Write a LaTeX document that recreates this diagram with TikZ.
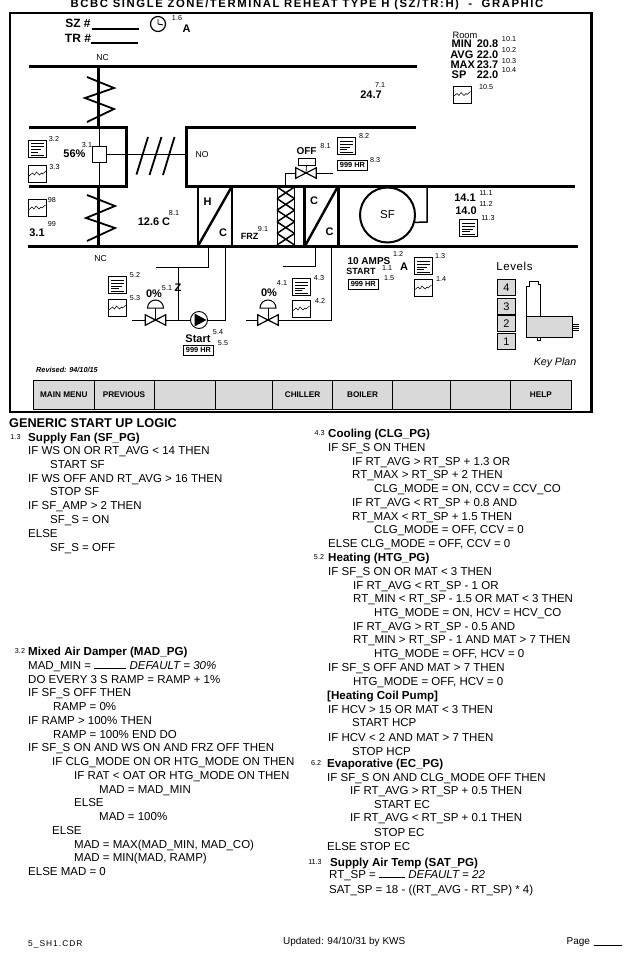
\documentclass[tikz,border=0pt]{standalone}
\usepackage{fontspec}
\setmainfont{Liberation Sans}
\usetikzlibrary{calc, positioning}

\definecolor{panelgrey}{HTML}{D9D9D9}

\tikzset{
    duct/.style={line width=3pt},
    blade/.style={line width=1.8pt},
    pipe/.style={line width=0.7pt},
    tag/.style={font=\fontsize{7.2}{8}\selectfont, inner sep=0pt},
    readout/.style={font=\fontsize{11}{12}\bfseries\selectfont, inner sep=0pt},
    small/.style={font=\fontsize{9}{10}\bfseries\selectfont, inner sep=0pt},
    plain/.style={font=\fontsize{8.6}{9}\selectfont, inner sep=0pt},
    iconbox/.style={draw, line width=0.6pt, fill=white, minimum width=18pt, minimum height=17pt, inner sep=0pt},
    hourbox/.style={draw, line width=0.8pt, minimum width=30pt, minimum height=10pt, inner sep=0pt, font=\fontsize{7.4}{8}\bfseries\selectfont},
    button/.style={draw, line width=0.6pt, fill=panelgrey, anchor=west, minimum height=29pt, inner sep=0pt, font=\fontsize{8.2}{9}\bfseries\selectfont},
    levelbox/.style={draw, line width=0.7pt, fill=panelgrey, minimum width=18pt, minimum height=16pt, inner sep=0pt, font=\fontsize{11}{12}\selectfont},
    logic/.style={anchor=base west, inner sep=0pt, font=\fontsize{11.5}{13}\selectfont},
    logichead/.style={anchor=base west, inner sep=0pt, font=\fontsize{11.6}{13}\bfseries\selectfont},
    valvebox/.style={minimum width=20pt, minimum height=10pt, inner sep=0pt}
}

% text-page icon, with its lines
\newcommand{\docicon}[3]{
    \node[iconbox] (#1) at (#2,#3) {};
    \draw[line width=0.6pt] (#2-6.5,#3-5) -- (#2+6.5,#3-5) (#2-6.5,#3-2) -- (#2+6.5,#3-2) (#2-6.5,#3+1) -- (#2+4,#3+1) (#2-6.5,#3+3.5) -- (#2+1,#3+3.5) (#2-6.5,#3+6.5) -- (#2+6.5,#3+6.5);
}
% trend icon
\newcommand{\trendicon}[3]{
    \node[iconbox] (#1) at (#2,#3) {};
    \draw[line width=0.5pt] (#2-8.5,#3+2) -- (#2-5,#3-1) -- (#2-3,#3+1) -- (#2-1,#3-2) -- (#2+2,#3+1) -- (#2+4,#3-1) -- (#2+5,#3) -- (#2+8.5,#3-3);
}
% bow tie, the node gives the ends for the pipes
\newcommand{\valve}[3]{
    \node[valvebox] (#1) at (#2,#3) {};
    \draw[line width=1.2pt] (#1.north west) -- (#1.south east) -- (#1.north east) -- (#1.south west) -- cycle;
}
% dome on a stem
\newcommand{\dome}[2]{
    \draw[line width=1pt] (#1-8,#2-12) arc[start angle=180, end angle=0, radius=8pt] -- cycle;
    \draw[line width=1pt] (#1,#2-12) -- (#1,#2);
}

\begin{document}
\begin{tikzpicture}[x=1pt, y=-1pt]

    \useasboundingbox (0,0) rectangle (639,958);

    \node[inner sep=0pt, font=\fontsize{11.3}{12}\bfseries\addfontfeature{LetterSpace=14}\selectfont] (title) at (307,5) {BCBC SINGLE ZONE/TERMINAL REHEAT TYPE H (SZ/TR:H)\ \ -\ \ GRAPHIC};
    \draw[line width=2.6pt] (10,13) rectangle (591.5,412);

    % zone and clock
    \node[small, font=\fontsize{12}{13}\bfseries\selectfont] (SZ) at (78,23) {SZ \#};
    \node[small, font=\fontsize{12}{13}\bfseries\selectfont] (TR) at (78,38) {TR \#};
    \draw[line width=1.3pt] (92,29) -- (139,29) (91,43) -- (138,43);
    \node[draw, circle, line width=1.2pt, minimum size=15pt, inner sep=0pt] (clock) at (158,24) {};
    \draw[line width=0.9pt] (clock.center) -- (158,19) (clock.center) -- (163,25);
    \node[small, font=\fontsize{11}{12}\bfseries\selectfont] (clockA) at (186.5,28.5) {A};

    % duct walls
    \draw[duct] (29,67) -- (417,67);
    \draw[duct] (29,127) -- (126,127) -- (126,186) -- (29,186);
    \draw[duct] (416,127) -- (186,127) -- (186,186) -- (575,186);
    \draw[duct] (28,246.5) -- (578,246.5);

    % dampers
    \draw[duct] (98,67) -- (98,127) (98,186) -- (98,246);
    \node[draw, line width=0.7pt, minimum width=14.5pt, minimum height=16.5pt, inner sep=0pt] (damper) at (99.5,154.5) {};
    \draw[pipe] (damper.north) -- (99.5,127) (damper.south) -- (99.5,186);
    \draw[pipe] (damper.east) -- (126,154.5);
    \draw[line width=1.2pt] (126,154.5) -- (186,154.5);
    \draw[blade] (148,137) -- (136.5,174.5) (161.5,137) -- (149.5,175) (174.5,137) -- (163,175);
    \draw[blade] (87,77) -- (114,88) -- (85,98) -- (114,109) -- (87,122);
    \draw[blade] (87,195) -- (115,206) -- (86,218) -- (115,228) -- (87,241);

    % coils
    \draw[line width=1.4pt] (198,186) -- (198,246) (232,186) -- (232,246);
    \draw[line width=2.4pt] (231,188) -- (198,246);
    \draw[duct] (304,186) -- (304,246);
    \draw[duct] (338.5,186) -- (338.5,246);
    \draw[line width=2.4pt] (337,188) -- (305,246);
    \node[readout] (coilHH) at (207.5,202) {H};
    \node[readout] (coilHC) at (223,233) {C};
    \node[readout] (coilCA) at (314,201) {C};
    \node[readout] (coilCB) at (329.5,232) {C};

    % filter
    \draw[line width=0.7pt] (277,187) -- (277,245) (294.5,187) -- (294.5,245);
    \foreach \row in {0,...,4}
        \draw[line width=1.5pt] (277,187+\row*11.6) -- (294.5,187+\row*11.6+11.6) (294.5,187+\row*11.6) -- (277,187+\row*11.6+11.6);

    % fan
    \node[draw, circle, line width=2pt, minimum size=55pt, inner sep=0pt, font=\fontsize{11.5}{12}\selectfont] (SF) at (387.5,215) {SF};
    \draw[line width=1.5pt] (427,186) -- (427,222) -- (SF.-15);

    % cooling valve above the duct
    \valve{EV}{306}{173}
    \coordinate (EVdrop) at (285,186);
    \coordinate (EVfree) at (333,173);
    \draw[pipe] (EV.west) -- (EVdrop |- EV.west) -- (EVdrop);
    \draw[pipe] (EV.east) -- (EVfree);
    \node[draw, line width=0.7pt, minimum width=17pt, minimum height=7pt, inner sep=0pt] (EVact) at (306.5,161.5) {};
    \draw[pipe] (EVact.south) -- (EV.center);

    % heating piping
    \node[draw, circle, line width=0.9pt, minimum size=17pt, inner sep=0pt] (pump) at (199,320) {};
    \fill (194.5,313.5) -- (206.5,320) -- (194.5,326.5) -- cycle;
    \valve{HV}{155.5}{320}
    \coordinate (HVfree) at (132,320);
    \coordinate (HVtee) at (178.3,320);
    \coordinate (HSup) at (208.3,247);
    \coordinate (HSend) at (156,267.3);
    \coordinate (HRet) at (225.3,247);
    \draw[pipe] (HSup) -- (208.3,267.3) -- (HSend);
    \draw[pipe] (178.3,267.3) -- (HVtee);
    \draw[pipe] (HRet) -- (225.3,320) -- (pump.east);
    \draw[pipe] (pump.west) -- (HV.east);
    \draw[pipe] (HV.west) -- (HVfree);
    \dome{155.5}{320}
    \node[readout] (HVz) at (178,287.5) {Z};

    % cooling piping
    \valve{CV}{268}{320}
    \coordinate (CVfree) at (246,320);
    \coordinate (CRet) at (331.7,247);
    \coordinate (CSup) at (315.7,247);
    \coordinate (CSend) at (283.3,266);
    \draw[pipe] (CVfree) -- (CV.west);
    \draw[pipe] (CV.east) -- (331.7,320) -- (CRet);
    \draw[pipe] (CSup) -- (315.7,266) -- (CSend);
    \dome{268}{320}

    % icons
    \docicon{iconA}{37.2}{148.5}
    \trendicon{iconB}{37.5}{174}
    \trendicon{iconC}{37}{208}
    \trendicon{iconD}{462}{94.5}
    \docicon{iconE}{346}{146}
    \docicon{iconF}{468.5}{228}
    \docicon{iconG}{117.5}{285}
    \trendicon{iconH}{117.5}{308}
    \docicon{iconI}{301}{287}
    \trendicon{iconJ}{301}{309}
    \docicon{iconK}{423}{266}
    \trendicon{iconL}{423}{288}

    \node[hourbox, minimum width=30.5pt] (hourE) at (352.5,165) {999 HR};
    \node[hourbox] (hourP) at (198.5,350) {999 HR};
    \node[hourbox] (hourS) at (363.3,284) {999 HR};

    % values
    \foreach \x/\y/\txt [count=\i] in {74.5/154/56\%, 37/233/3.1, 154/222/{12.6 C}, 371/95/24.7, 465/198/14.1, 466/210.5/14.0, 154/294/0\%, 269/293/0\%, 487.5/44/20.8, 487.5/54.5/22.0, 487.5/65/23.7, 487.5/75/22.0, 461.8/44/MIN, 461.8/54.5/AVG, 462.8/65/MAX, 459/75/SP}
        \node[readout] (val\i) at (\x,\y) {\txt};
    \node[readout, font=\fontsize{10}{11}\bfseries\selectfont] (off) at (306.5,151.5) {OFF};
    \node[readout, font=\fontsize{10}{11}\bfseries\selectfont] (amps) at (369,261) {10 AMPS};
    \node[small] (frz) at (249.5,236) {FRZ};
    \node[small, font=\fontsize{11}{12}\bfseries\selectfont] (startP) at (198,338.5) {Start};
    \node[small] (startS) at (361,271) {START};
    \node[small, font=\fontsize{11}{12}\bfseries\selectfont] (ampA) at (404,267) {A};
    \node[plain, font=\fontsize{9.3}{10}\selectfont] (room) at (465,35) {Room};
    \node[plain] (ncA) at (102.5,58) {NC};
    \node[plain] (ncB) at (100.7,259) {NC};
    \node[plain] (no) at (202,155) {NO};

    % point numbers
    \foreach \x/\y/\txt [count=\i] in {177/18/1.6, 54/139/3.2, 54.5/167/3.3, 87/145/3.1, 52/200/98, 52/224/99, 174/213/8.1, 263/229/9.1, 380/85/7.1, 509/39/10.1, 509/50/10.2, 509/61/10.3, 509/70/10.4, 486/87/10.5, 325.5/146.5/8.1, 364/136/8.2, 375/160/8.3, 486/193/11.1, 486/204/11.2, 488/218/11.3, 135/275.5/5.2, 135/298.5/5.3, 167/288/5.1, 218/332/5.4, 223/343/5.5, 282/283/4.1, 319/278/4.3, 320/301/4.2, 398/254/1.2, 387/268/1.1, 389/278/1.5, 440/256/1.3, 441/279/1.4, 15.5/437/1.3, 20/651/3.2, 319.5/433/4.3, 319/557/5.2, 316/763/6.2, 315/862/11.3}
        \node[tag] (tag\i) at (\x,\y) {\txt};

    % key plan
    \node[inner sep=0pt, font=\fontsize{11.5}{12}\addfontfeature{LetterSpace=5}\selectfont] (levels) at (514.5,266) {Levels};
    \foreach \lvl/\y in {4/287.5, 3/306.3, 2/323.7, 1/341.7}
        \node[levelbox] (level\lvl) at (506.5,\y) {\lvl};
    \draw[line width=0.7pt, fill=white] (526.7,317) -- (526.7,286) -- (529,286) -- (529,281) -- (538,281) -- (538,284) -- (540.7,284) -- (540.7,317) -- cycle;
    \draw[line width=0.7pt] (537.3,337.5) rectangle (540.7,340.5);
    \draw[line width=0.7pt, fill=panelgrey] (526.7,316.7) rectangle (572.7,337.5);
    \draw[line width=0.5pt] (572.7,324.5) -- (579,324.5) (572.7,326.5) -- (579,326.5) (572.7,328.5) -- (579,328.5) (572.7,330.5) -- (579,330.5);
    \node[inner sep=0pt, font=\fontsize{10.6}{12}\itshape\selectfont] (keyplan) at (555,362.5) {Key Plan};
    \node[inner sep=0pt, font=\fontsize{7.3}{8}\bfseries\itshape\selectfont] (revised) at (67,370) {Revised: 94/10/15};

    % menu buttons
    \foreach \x/\w/\txt [count=\i] in {33.3/60.4/{MAIN MENU}, 93.7/60/PREVIOUS, 153.7/61/{}, 214.7/57.6/{}, 272.3/60/CHILLER, 332.3/60/BOILER, 392.3/58/{}, 450.3/60/{}, 510.3/60.4/HELP}
        \node[button, minimum width=\w pt] (menu\i) at (\x,394.8) {\txt};

    % logic, left column
    \node[inner sep=0pt, anchor=base west, font=\fontsize{12.7}{14}\bfseries\selectfont] (logic) at (9,427) {GENERIC START UP LOGIC};
    \foreach \x/\y/\txt [count=\i] in {28/441/{Supply Fan (SF\_PG)}, 28/655/{Mixed Air Damper (MAD\_PG)}, 328/437/{Cooling (CLG\_PG)}, 328/561/{Heating (HTG\_PG)}, 327/699/{[Heating Coil Pump]}, 327/767/{Evaporative (EC\_PG)}, 330/866/{Supply Air Temp (SAT\_PG)}}
        \node[logichead] (head\i) at (\x,\y) {\txt};

    \foreach \x/\y/\txt [count=\i] in {
        28/454.5/{IF WS ON OR RT\_AVG < 14 THEN},
        50/468/{START SF},
        28/482/{IF WS OFF AND RT\_AVG > 16 THEN},
        50/495/{STOP SF},
        28/509/{IF SF\_AMP > 2 THEN},
        50/523/{SF\_S = ON},
        28/537/{ELSE},
        50/551/{SF\_S = OFF},
        28/669/{MAD\_MIN = \rule{32pt}{0.6pt} \textit{DEFAULT = 30\%}},
        28/683/{DO EVERY 3 S RAMP = RAMP + 1\%},
        28/696/{IF SF\_S OFF THEN},
        53/710/{RAMP = 0\%},
        28/724/{IF RAMP > 100\% THEN},
        53/738/{RAMP = 100\% END DO},
        28/751/{IF SF\_S ON AND WS ON AND FRZ OFF THEN},
        52/765/{IF CLG\_MODE ON OR HTG\_MODE ON THEN},
        74/779/{IF RAT < OAT OR HTG\_MODE ON THEN},
        99/793/{MAD = MAD\_MIN},
        74/806/{ELSE},
        99/820/{MAD = 100\%},
        52/834/{ELSE},
        74/848/{MAD = MAX(MAD\_MIN, MAD\_CO)},
        74/861/{MAD = MIN(MAD, RAMP)},
        28/875/{ELSE MAD = 0}}
        \node[logic] (left\i) at (\x,\y) {\txt};

    % logic, right column
    \foreach \x/\y/\txt [count=\i] in {
        328/451/{IF SF\_S ON THEN},
        352/465/{IF RT\_AVG > RT\_SP + 1.3 OR},
        352/478/{RT\_MAX > RT\_SP + 2 THEN},
        374/492/{CLG\_MODE = ON, CCV = CCV\_CO},
        352/506/{IF RT\_AVG < RT\_SP + 0.8 AND},
        352/520/{RT\_MAX < RT\_SP + 1.5 THEN},
        374/533/{CLG\_MODE = OFF, CCV = 0},
        328/547/{ELSE CLG\_MODE = OFF, CCV = 0},
        328/575/{IF SF\_S ON OR MAT < 3 THEN},
        353/589/{IF RT\_AVG < RT\_SP - 1 OR},
        353/602/{RT\_MIN < RT\_SP - 1.5 OR MAT < 3 THEN},
        374/616/{HTG\_MODE = ON, HCV = HCV\_CO},
        353/630/{IF RT\_AVG > RT\_SP - 0.5 AND},
        353/643/{RT\_MIN > RT\_SP - 1 AND MAT > 7 THEN},
        374/657/{HTG\_MODE = OFF, HCV = 0},
        328/671/{IF SF\_S OFF AND MAT > 7 THEN},
        353/685/{HTG\_MODE = OFF, HCV = 0},
        328/713/{IF HCV > 15 OR MAT < 3 THEN},
        352/726/{START HCP},
        328/741/{IF HCV < 2 AND MAT > 7 THEN},
        352/755/{STOP HCP},
        327/781/{IF SF\_S ON AND CLG\_MODE OFF THEN},
        350/794/{IF RT\_AVG > RT\_SP + 0.5 THEN},
        374/808/{START EC},
        350/821/{IF RT\_AVG < RT\_SP + 0.1 THEN},
        374/836/{STOP EC},
        327/850/{ELSE STOP EC},
        329/878/{RT\_SP = \rule{26pt}{0.6pt} \textit{DEFAULT = 22}},
        329/893/{SAT\_SP = 18 - ((RT\_AVG - RT\_SP) * 4)}}
        \node[logic] (right\i) at (\x,\y) {\txt};

    % footer
    \node[anchor=base west, inner sep=0pt, font=\fontsize{8.4}{9}\addfontfeature{LetterSpace=12}\selectfont] (file) at (28,946) {5\_SH1.CDR};
    \node[anchor=base west, inner sep=0pt, font=\fontsize{10}{11}\selectfont] (updated) at (283,944) {Updated: 94/10/31 by KWS};
    \node[anchor=base west, inner sep=0pt, font=\fontsize{10}{11}\selectfont] (page) at (566.5,944) {Page};
    \draw[line width=0.7pt] (594,945) -- (622,945);

\end{tikzpicture}
\end{document}
